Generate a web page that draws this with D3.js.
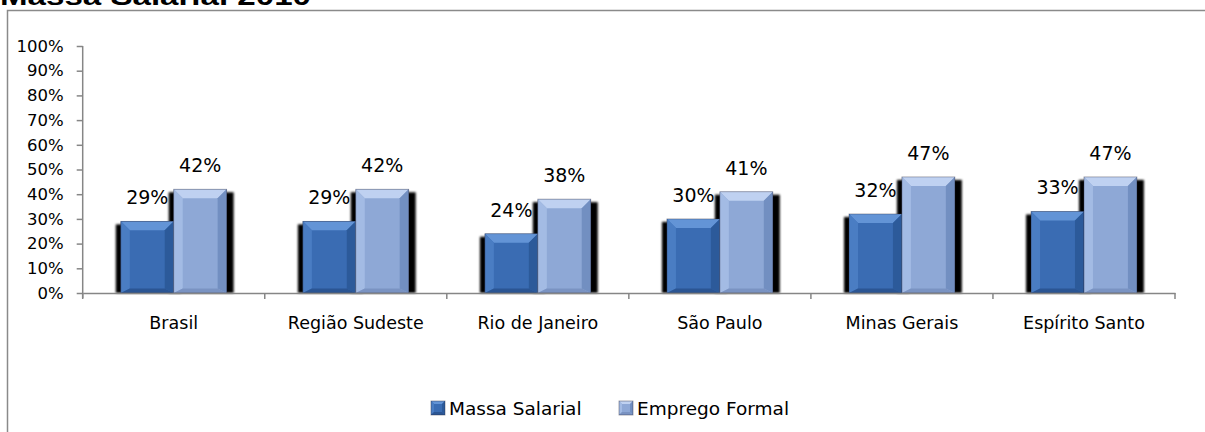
<!DOCTYPE html>
<html><head><meta charset="utf-8">
<script src="https://cdn.jsdelivr.net/npm/d3@7"></script>
<style>html,body{margin:0;padding:0;background:#fff;}svg{display:block;}</style>
</head><body>
<script>
const categories = ["Brasil", "Região Sudeste", "Rio de Janeiro", "São Paulo", "Minas Gerais", "Espírito Santo"];
const seriesNames = ["Massa Salarial", "Emprego Formal"];
const massaSalarial = [29, 29, 24, 30, 32, 33];
const empregoFormal = [42, 42, 38, 41, 47, 47];
const yTicks = [0, 10, 20, 30, 40, 50, 60, 70, 80, 90, 100];
const title = "Massa Salarial 2010";

const W = 1205, H = 432;
const FONT = "'DejaVu Sans', sans-serif";
const svg = d3.select("body").append("svg").attr("width", W).attr("height", H);

const styles = {
  "Massa Salarial": {face:"#3a6cb3", top:"#6394d6", left:"#4a7dc3", right:"#2c5a9a", bottom:"#2b5593"},
  "Emprego Formal": {face:"#8ea8d6", top:"#bfd1f1", left:"#a3bbe4", right:"#728fc1", bottom:"#7a93c2"}
};

const defs = svg.append("defs");
defs.append("filter").attr("id","sh").attr("x","-20%").attr("y","-20%").attr("width","140%").attr("height","140%")
  .append("feGaussianBlur").attr("stdDeviation", 0.9);

// title (partly cut off at top, as in the reference)
svg.append("text").attr("x", 0).attr("y", 5)
  .attr("font-family", "'Liberation Sans', Arial, sans-serif").attr("font-weight", "bold")
  .attr("font-size", 26).attr("textLength", 311).attr("lengthAdjust","spacingAndGlyphs")
  .text(title);

// chart border
svg.append("rect").attr("x", 7.5).attr("y", 10.5).attr("width", 1210).attr("height", 430)
  .attr("fill", "none").attr("stroke", "#8a8a8a").attr("stroke-width", 1.5);

const x0 = d3.scaleBand().domain(categories).range([82.7, 1175]).paddingInner(0).paddingOuter(0);
const x1 = d3.scaleBand().domain(seriesNames).range([0, x0.bandwidth()]).paddingInner(0).paddingOuter(0.72);
const y = d3.scaleLinear().domain([0, 100]).range([293, 46]);

const data = categories.map((c, i) => ({cat: c, values: [
  {s: seriesNames[0], v: massaSalarial[i]},
  {s: seriesNames[1], v: empregoFormal[i]}
]}));

// y axis
const yAxis = d3.axisLeft(y).tickValues(yTicks).tickFormat(d => d + "%").tickSize(6).tickSizeOuter(0);
const gy = svg.append("g").attr("transform", "translate(82.7,0)").call(yAxis);
gy.select(".domain").attr("stroke", "#868686").attr("stroke-width", 1.5).attr("d", "M0,46V298");
gy.selectAll(".tick line").attr("stroke", "#868686").attr("stroke-width", 1.5);
gy.selectAll(".tick text").attr("font-family", FONT).attr("font-size", 16.5).attr("fill", "#000").attr("x", -19);

// bars
const groups = svg.selectAll("g.grp").data(data).join("g").attr("class","grp")
  .attr("transform", d => `translate(${x0(d.cat)},0)`);

const b = 9;
groups.each(function(d) {
  const g = d3.select(this);
  d.values.forEach(item => {
    const x = x1(item.s), w = x1.bandwidth();
    const yt = y(item.v), yb = y(0);
    g.append("rect").attr("x", x - 5).attr("y", yt + 3).attr("width", w + 12).attr("height", yb - yt - 3)
      .attr("fill", "#000").attr("filter", "url(#sh)");
  });
  d.values.forEach(item => {
    const st = styles[item.s];
    const x = x1(item.s), w = x1.bandwidth();
    const yt = y(item.v), yb = y(0);
    const h = yb - yt;
    const poly = (pts, fill) => g.append("polygon").attr("points", pts.map(p => p.join(",")).join(" ")).attr("fill", fill);
    poly([[x,yt],[x+w,yt],[x+w,yb],[x,yb]], st.face);
    poly([[x,yt],[x+w,yt],[x+w-b,yt+b],[x+b,yt+b]], st.top);
    poly([[x,yt],[x+b,yt+b],[x+b,yb-b/2],[x,yb]], st.left);
    poly([[x+w,yt],[x+w-b,yt+b],[x+w-b,yb-b/2],[x+w,yb]], st.right);
    poly([[x,yb],[x+b,yb-b/2],[x+w-b,yb-b/2],[x+w,yb]], st.bottom);
    g.append("rect").attr("x", x).attr("y", yt).attr("width", w).attr("height", h)
      .attr("fill", "none").attr("stroke", "rgba(40,40,60,0.45)").attr("stroke-width", 0.8);
  });
  d.values.forEach(item => {
    g.append("text").attr("x", x1(item.s) + x1.bandwidth() / 2).attr("y", y(item.v) - 17)
      .attr("text-anchor", "middle").attr("font-family", FONT).attr("font-size", 19).attr("fill", "#000")
      .text(item.v + "%");
  });
});

// x axis
const xAxis = d3.axisBottom(x0).tickSize(0).tickSizeOuter(0);
const gx = svg.append("g").attr("transform", "translate(0,293)").call(xAxis);
gx.select(".domain").attr("stroke", "#868686").attr("stroke-width", 1.5);
gx.selectAll(".tick text").attr("font-family", FONT).attr("font-size", 17.5).attr("fill", "#000").attr("dy", 0).attr("y", 36);
const bounds = categories.map(c => x0(c)).concat([x0(categories[categories.length-1]) + x0.bandwidth()]);
gx.selectAll("line.bt").data(bounds).join("line").attr("class","bt")
  .attr("x1", d => d).attr("x2", d => d).attr("y1", 0).attr("y2", 6)
  .attr("stroke", "#868686").attr("stroke-width", 1.5);

// legend
const legendX = [431, 619];
const lg = svg.selectAll("g.leg").data(seriesNames).join("g").attr("class","leg")
  .attr("transform", (d, i) => `translate(${legendX[i]},401)`);
lg.each(function(s) {
  const g = d3.select(this), st = styles[s], w = 14, lb = 3;
  const poly = (pts, fill) => g.append("polygon").attr("points", pts.map(p => p.join(",")).join(" ")).attr("fill", fill);
  poly([[0,0],[w,0],[w,w],[0,w]], st.face);
  poly([[0,0],[w,0],[w-lb,lb],[lb,lb]], st.top);
  poly([[0,0],[lb,lb],[lb,w-lb],[0,w]], st.left);
  poly([[w,0],[w-lb,lb],[w-lb,w-lb],[w,w]], st.right);
  poly([[0,w],[lb,w-lb],[w-lb,w-lb],[w,w]], st.bottom);
  g.append("rect").attr("width", w).attr("height", w).attr("fill","none").attr("stroke","rgba(40,40,60,0.5)").attr("stroke-width",0.8);
  g.append("text").attr("x", 18).attr("y", 14).attr("font-family", FONT).attr("font-size", 18.5).attr("fill","#000").text(s);
});
</script>
</body></html>
